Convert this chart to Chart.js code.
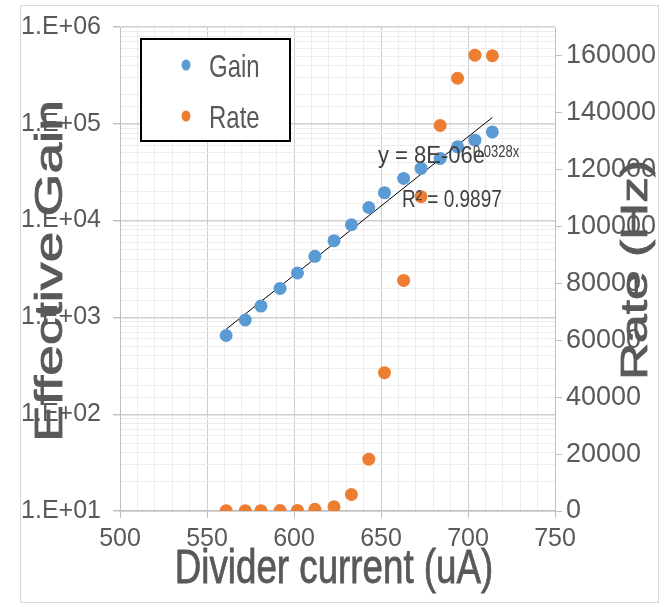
<!DOCTYPE html>
<html>
<head>
<meta charset="utf-8">
<script src="https://cdn.jsdelivr.net/npm/chart.js@4.4.1/dist/chart.umd.min.js"></script>
<style>
  html, body { margin: 0; padding: 0; background: #fff; }
  canvas { display: block; }
</style>
</head>
<body>
<canvas id="chart" width="666" height="607"></canvas>
<script>
// divider current (uA)
const current = [561, 572, 581, 592, 602, 612, 623, 633, 643, 652, 663, 673, 684, 694, 704, 714]
// effective gain (left, log axis)
const gain = [650, 940, 1310, 1990, 2880, 4270, 6200, 9060, 13650, 19450, 27300, 34600, 43800, 57800, 67700, 82400]
// rate in Hz (right axis)
const rate = [100, 100, 100, 150, 200, 600, 1500, 5800, 18200, 48600, 81000, 110400, 135400, 152000, 160100, 159900]
// right axis tick values
const rateTicks = [0, 20000, 40000, 60000, 80000, 100000, 120000, 140000, 160000]

const seriesNames = ['Gain', 'Rate']
const seriesColors = ['#5B9BD5', '#ED7D31']
const xTitle = 'Divider current (uA)'
const yTitle = 'Effective Gain'
const y1Title = 'Rate (Hz)'
const trendEq = 'y = 8E-06e'
const trendExp = '0.0328x'
const trendR2 = 'R\u00B2 = 0.9897'

// exponential trendline, least squares on ln(gain)
const lnG = gain.map(g => Math.log(g))
const n = current.length
const mx = current.reduce((s, v) => s + v, 0) / n
const my = lnG.reduce((s, v) => s + v, 0) / n
let sxy = 0, sxx = 0
for (let i = 0; i < n; i++) {
  sxy += (current[i] - mx) * (lnG[i] - my)
  sxx += (current[i] - mx) ** 2
}
const fitB = sxy / sxx
const fitA = Math.exp(my - fitB * mx)
const trend = [current[0], current[n - 1]].map(x => ({ x, y: fitA * Math.exp(fitB * x) }))

const FAMILY = 'Liberation Sans, Arial, sans-serif'
const TICK_FONT = { family: FAMILY, size: 25 }
const TXT = '#595959'
const MAJOR = '#cfcfcf'
const MINOR = '#ededed'

const isPow10 = v => Math.abs(Math.log10(v) - Math.round(Math.log10(v))) < 1e-9

function stretchText(ctx, text, x, y, font, sx, sy, align, heavy) {
  ctx.save()
  ctx.translate(x, y)
  ctx.scale(sx, sy)
  ctx.font = font
  ctx.textAlign = align || 'left'
  ctx.textBaseline = 'alphabetic'
  ctx.fillText(text, 0, 0)
  if (heavy) {
    ctx.strokeStyle = ctx.fillStyle
    ctx.lineWidth = heavy
    ctx.strokeText(text, 0, 0)
  }
  ctx.restore()
}

function vertText(ctx, text, x, y, font, stretch) {
  ctx.save()
  ctx.translate(x, y)
  ctx.rotate(-Math.PI / 2)
  ctx.scale(stretch, 1)
  ctx.font = font
  ctx.textAlign = 'center'
  ctx.textBaseline = 'alphabetic'
  ctx.fillText(text, 0, 0)
  ctx.strokeStyle = ctx.fillStyle
  ctx.lineWidth = 0.8
  ctx.strokeText(text, 0, 0)
  ctx.restore()
}

const decor = {
  id: 'decor',
  beforeDraw(chart) {
    const ctx = chart.ctx
    ctx.save()
    ctx.fillStyle = '#fff'
    ctx.fillRect(0, 0, chart.width, chart.height)
    ctx.strokeStyle = '#d9d9d9'
    ctx.lineWidth = 1
    ctx.strokeRect(20.5, 5.5, 638, 597)
    ctx.restore()
  },
  afterDraw(chart) {
    const ctx = chart.ctx
    ctx.save()

    // trendline label
    ctx.fillStyle = '#404040'
    stretchText(ctx, trendEq, 378, 163, '22px ' + FAMILY, 1, 1.1)
    stretchText(ctx, trendExp, 473, 157, '13px ' + FAMILY, 1, 1.3)
    stretchText(ctx, trendR2, 402, 207, '19px ' + FAMILY, 1, 1.3)

    // legend
    ctx.fillStyle = '#fff'
    ctx.fillRect(141, 39, 149, 102)
    ctx.strokeStyle = '#000'
    ctx.lineWidth = 2
    ctx.strokeRect(141, 39, 149, 102)
    const rows = [65, 116]
    chart.data.datasets.slice(0, 2).forEach((ds, i) => {
      ctx.fillStyle = ds.backgroundColor
      ctx.beginPath()
      ctx.ellipse(186, rows[i], 4.5, 5.5, 0, 0, Math.PI * 2)
      ctx.fill()
      ctx.fillStyle = TXT
      stretchText(ctx, ds.label, 209, rows[i] + 12, '24px ' + FAMILY, 1, 1.3)
    })

    // axis titles
    ctx.fillStyle = TXT
    stretchText(ctx, xTitle, 334, 583, '49px ' + FAMILY, 0.75, 1, 'center', 0.8)
    vertText(ctx, yTitle, 62, 271, '38px ' + FAMILY, 1.45)
    vertText(ctx, y1Title, 647, 270, '36px ' + FAMILY, 1.43)
    ctx.restore()
  }
}

new Chart(document.getElementById('chart'), {
  type: 'scatter',
  data: {
    datasets: [
      {
        label: seriesNames[0],
        data: current.map((x, i) => ({ x, y: gain[i] })),
        backgroundColor: seriesColors[0],
        borderColor: seriesColors[0],
        pointRadius: 6.5,
        borderWidth: 0,
        yAxisID: 'y',
      },
      {
        label: seriesNames[1],
        data: current.map((x, i) => ({ x, y: rate[i] })),
        backgroundColor: seriesColors[1],
        borderColor: seriesColors[1],
        pointRadius: 6.5,
        borderWidth: 0,
        yAxisID: 'y1',
      },
      {
        type: 'line',
        label: 'trend',
        data: trend,
        borderColor: '#000',
        borderWidth: 1,
        pointRadius: 0,
        showLine: true,
        yAxisID: 'y',
      },
    ],
  },
  options: {
    responsive: false,
    animation: false,
    events: [],
    layout: { padding: { top: 25, left: 0, right: 0, bottom: 0 } },
    plugins: { legend: { display: false }, tooltip: { enabled: false } },
    scales: {
      x: {
        type: 'linear',
        position: 'bottom',
        min: 500,
        max: 750,
        afterFit: s => { s.height = 96 },
        ticks: {
          stepSize: 10,
          autoSkip: false,
          maxRotation: 0,
          padding: 6,
          color: TXT,
          font: TICK_FONT,
          callback: v => (v % 50 === 0 ? String(v) : ''),
        },
        grid: {
          color: c => (c.tick && c.tick.value % 50 === 0 ? MAJOR : MINOR),
          tickColor: c => (c.tick && c.tick.value % 50 === 0 ? '#bfbfbf' : 'rgba(0,0,0,0)'),
          tickLength: 7,
          lineWidth: 1,
        },
        border: { color: '#bfbfbf', width: 1.5 },
      },
      y: {
        type: 'logarithmic',
        position: 'left',
        min: 10,
        max: 1e6,
        afterFit: s => { s.width = 120 },
        ticks: {
          autoSkip: false,
          padding: 12,
          color: TXT,
          font: TICK_FONT,
          callback: v => (isPow10(v) ? '1.E+' + String(Math.round(Math.log10(v))).padStart(2, '0') : ''),
        },
        grid: {
          color: c => (c.tick && isPow10(c.tick.value) ? MAJOR : MINOR),
          tickColor: c => (c.tick && isPow10(c.tick.value) ? '#bfbfbf' : 'rgba(0,0,0,0)'),
          tickLength: 7,
          lineWidth: c => (c.tick && isPow10(c.tick.value) ? 1.4 : 1),
        },
        border: { color: '#bfbfbf', width: 1 },
      },
      y1: {
        type: 'linear',
        position: 'right',
        min: 0,
        max: 170000,
        afterFit: s => { s.width = 111 },
        afterBuildTicks: s => { s.ticks = rateTicks.map(v => ({ value: v })) },
        ticks: {
          autoSkip: false,
          padding: 4,
          color: TXT,
          font: { family: FAMILY, size: 27 },
          callback: v => String(v),
        },
        grid: { drawOnChartArea: false, tickLength: 7, tickColor: '#bfbfbf' },
        border: { color: '#bfbfbf', width: 1 },
      },
    },
  },
  plugins: [decor],
})
</script>
</body>
</html>
